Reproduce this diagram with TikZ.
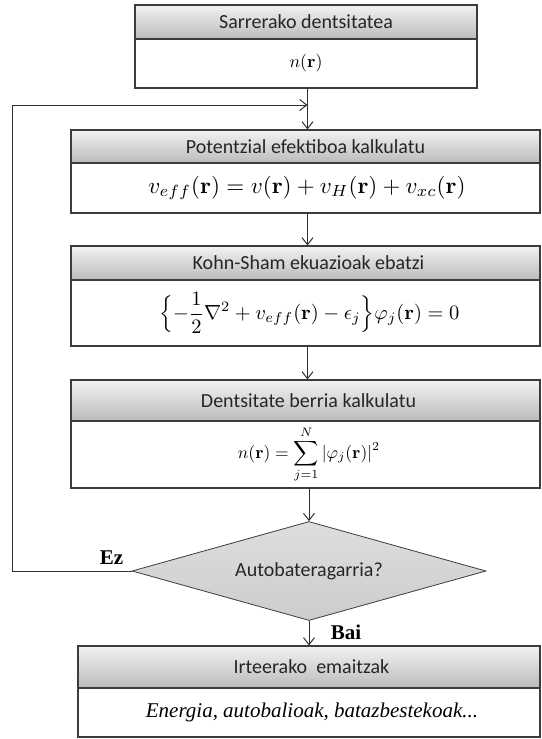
\documentclass[tikz,border=0pt]{standalone}
\usepackage{amsmath}
\usepackage{graphicx}
\usepackage[no-math]{fontspec}
\setmainfont{Liberation Serif}
\newfontfamily\hdrfont{Carlito}
\usetikzlibrary{shapes.geometric,arrows.meta}
\definecolor{bordc}{HTML}{3C3C3C}
\definecolor{linec}{HTML}{303030}
\definecolor{hdrtop}{HTML}{F2F2F2}
\definecolor{hdrbot}{HTML}{BBBBBB}
\definecolor{diatop}{HTML}{DEDEDE}
\definecolor{diabot}{HTML}{CCCCCC}
\tikzset{
  hdrbox/.style={draw=bordc, line width=1.1pt, top color=hdrtop, bottom color=hdrbot,
    inner sep=0pt, font=\hdrfont\fontsize{20}{24}\selectfont, text=black!85},
  bodybox/.style={draw=bordc, line width=1.1pt, fill=white, inner sep=0pt},
  arr/.style={draw=linec, line width=1pt, -{Straight Barb[length=7pt,width=11pt,line width=1pt]}},
  loopline/.style={draw=linec, line width=1pt},
  lbl/.style={font=\bfseries\fontsize{21}{25}\selectfont, inner sep=0pt},
  decision/.style={diamond, aspect=3.58, draw=bordc, line width=0.8pt, top color=diatop, bottom color=diabot,
    inner sep=0pt, font=\hdrfont\fontsize{20}{24}\selectfont, text=black!85}
}
\begin{document}
\begin{tikzpicture}[x=1pt,y=-1pt]
\useasboundingbox (0,0) rectangle (541,739);
\clip (0,0) rectangle (541,739);
\coordinate (ax) at (307.5,0);
% box 1
\node[hdrbox, minimum width=342pt, minimum height=34pt] (h1) at (306,22) {Sarrerako dentsitatea};
\node[bodybox, minimum width=342pt, minimum height=49pt] (b1) at (306,63.5) {\resizebox{33pt}{!}{$n(\mathbf{r})$}};
% box 2
\node[hdrbox, minimum width=469pt, minimum height=33pt] (h2) at (305.5,146.5) {Potentzial efektiboa kalkulatu};
\node[bodybox, minimum width=469pt, minimum height=50pt] (b2) at (305.5,188) {\hspace*{3pt}\resizebox{317pt}{!}{$v_{eff}(\mathbf{r}) = v(\mathbf{r}) + v_H(\mathbf{r}) + v_{xc}(\mathbf{r})$}};
% box 3
\node[hdrbox, minimum width=469pt, minimum height=34pt] (h3) at (305.5,263) {\hspace*{6pt}Kohn-Sham ekuazioak ebatzi};
\node[bodybox, minimum width=469pt, minimum height=66pt] (b3) at (305.5,313) {\hspace*{8pt}\resizebox{300pt}{!}{$\displaystyle\Bigl\{-\frac{1}{2}\nabla^2 + v_{eff}(\mathbf{r}) - \epsilon_j\Bigr\}\varphi_j(\mathbf{r}) = 0$}};
% box 4
\node[hdrbox, minimum width=469pt, minimum height=41pt] (h4) at (305.5,400.5) {\hspace*{6pt}Dentsitate berria kalkulatu};
\node[bodybox, minimum width=469pt, minimum height=67pt] (b4) at (305.5,454.5) {\hspace*{7pt}\raisebox{-3pt}{\resizebox{142pt}{!}{$\displaystyle n(\mathbf{r}) = \sum_{j=1}^{N}|\varphi_j(\mathbf{r})|^2$}}};
% decision
\node[decision, minimum width=354pt, minimum height=99pt] (dia) at (309,571) {Autobateragarria?};
% output
\node[hdrbox, minimum width=462pt, minimum height=42pt] (h5) at (309,667) {\hspace*{5pt}Irteerako\ \ emaitzak};
\node[bodybox, minimum width=462pt, minimum height=49pt] (b5) at (309,712.5) {\hspace*{6pt}\itshape\fontsize{21}{25}\selectfont Energia, autobalioak, batazbestekoak...};
% connectors
\draw[arr] (b1.south -| ax) -- (h2.north -| ax);
\draw[arr] (b2.south -| ax) -- (h3.north -| ax);
\draw[arr] (b3.south -| ax) -- (h4.north -| ax);
\draw[arr] (b4.south -| dia.north) -- (dia.north);
\draw[arr] (dia.south) -- (dia.south |- h5.north);
\coordinate (c1) at (12,571);
\coordinate (c2) at (12,105);
\draw[loopline] (dia.west) -- (c1) -- (c2);
\draw[arr] (c2) -- (c2 -| ax);
% labels
\node[lbl] (ez) at (111.5,558) {Ez};
\node[lbl] (bai) at (346,632) {Bai};
\end{tikzpicture}
\end{document}
